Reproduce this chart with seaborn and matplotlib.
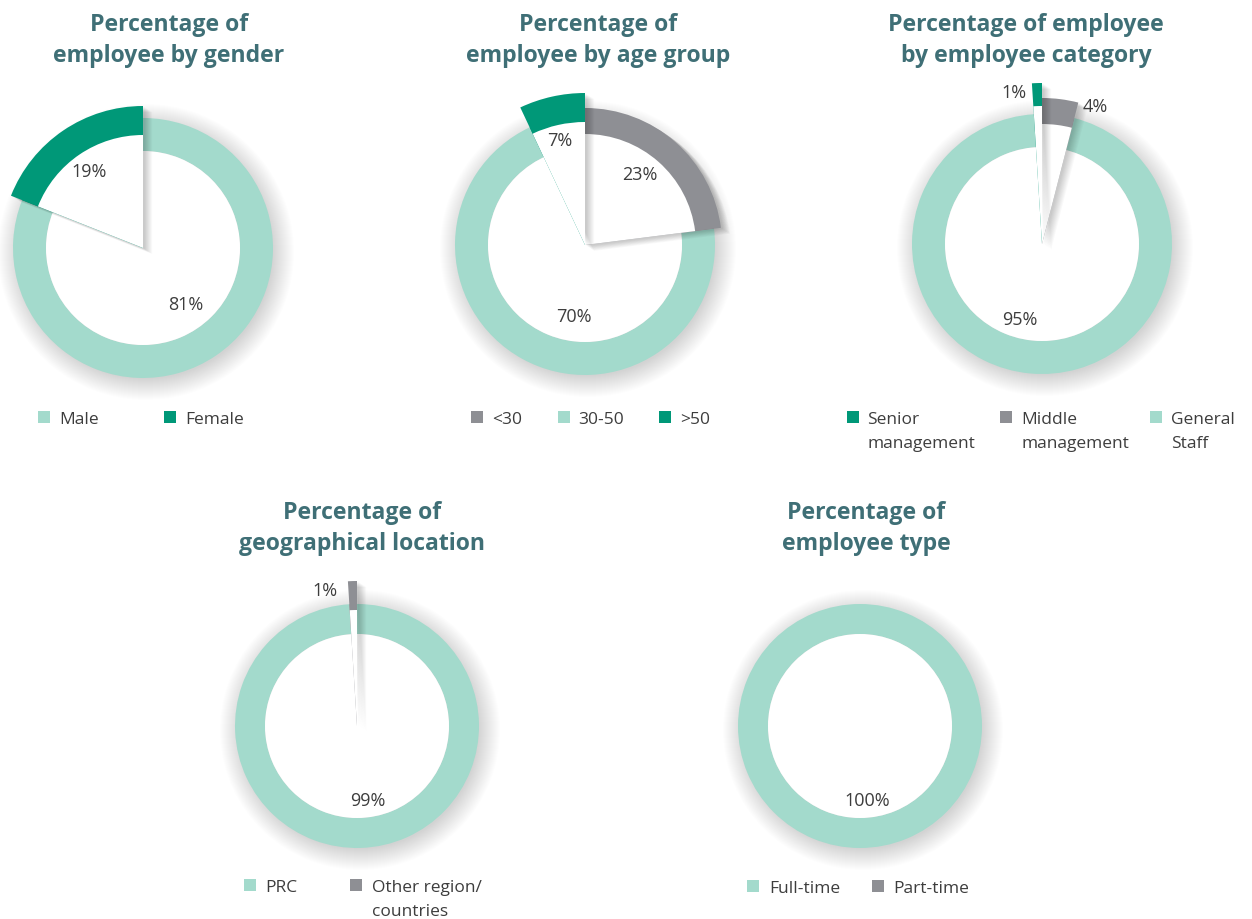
import matplotlib
matplotlib.use("Agg")
import matplotlib.pyplot as plt
import seaborn as sns

# ---------------- data ----------------
gender_labels = ["Male", "Female"]
gender_values = [81, 19]

age_labels = ["<30", "30-50", ">50"]
age_values = [23, 70, 7]

category_labels = ["Senior\nmanagement", "Middle\nmanagement", "General\nStaff"]
category_values = [1, 4, 95]

location_labels = ["PRC", "Other region/\ncountries"]
location_values = [99, 1]

type_labels = ["Full-time", "Part-time"]
type_values = [100, 0]

titles = [
    ["Percentage of", "employee by gender"],
    ["Percentage of", "employee by age group"],
    ["Percentage of employee", "by employee category"],
    ["Percentage of", "geographical location"],
    ["Percentage of", "employee type"],
]

# ---------------- style ----------------
sns.set_theme(style="white")
plt.rcParams["font.family"] = ["Open Sans", "DejaVu Sans"]

LIGHT, DARK, GRAY = sns.color_palette(["#a3dacc", "#009878", "#8e8f94"])
TITLE_C = "#3f6f76"
TEXT_C = "#3d3d3d"

W, H = 1252, 920

charts = [
    dict(labels=gender_labels, values=gender_values, colors=[LIGHT, DARK],
         pie_order=[0, 1], center=(143, 249), R=130, r=97,
         explode=[None, (142, 113)],
         pct_pos=[(186, 305.5), (89, 172)],
         title_x=169, title_y=31,
         leg_sq=[44, 170], leg_tx=[59, 185], leg_y=418),
    dict(labels=age_labels, values=age_values, colors=[GRAY, LIGHT, DARK],
         pie_order=[0, 1, 2], center=(585, 246), R=130, r=97,
         explode=[(137, 111), None, (152, 123)],
         pct_pos=[(640, 174.5), (573.5, 316.5), (559.5, 140.5)],
         title_x=598, title_y=31,
         leg_sq=[477, 564, 665], leg_tx=[492, 578, 680], leg_y=418),
    dict(labels=category_labels, values=category_values, colors=[DARK, GRAY, LIGHT],
         pie_order=[1, 2, 0], center=(1042, 245), R=130, r=97,
         explode=[(161, 138), (146, 120), None],
         pct_pos=[(1014, 93), (1095, 107), (1020, 320)],
         title_x=1026, title_y=31,
         leg_sq=[853, 1006, 1156], leg_tx=[867, 1021, 1171], leg_y=418),
    dict(labels=location_labels, values=location_values, colors=[LIGHT, GRAY],
         pie_order=[0, 1], center=(357, 727), R=122, r=92,
         explode=[None, (145, 116)],
         pct_pos=[(367.5, 801), (324.5, 591.5)],
         title_x=362, title_y=519,
         leg_sq=[250, 356], leg_tx=[265, 372], leg_y=886),
    dict(labels=type_labels, values=type_values, colors=[LIGHT, GRAY],
         pie_order=[0, 1], center=(860, 727), R=122, r=92,
         explode=[None, None],
         pct_pos=[(867, 801), None],
         title_x=866, title_y=519,
         leg_sq=[753, 878], leg_tx=[769, 893], leg_y=887),
]

fig = plt.figure(figsize=(W / 100, H / 100), dpi=100)
fig.patch.set_facecolor("white")
ax = fig.add_axes([0, 0, 1, 1])


def draw_pie(values, center, radius, colors, width=None, visible=None, alpha=1.0):
    wp = dict(linewidth=0, alpha=alpha, antialiased=True)
    if width is not None:
        wp["width"] = width
    wedges, _ = ax.pie(values, radius=radius, center=center, colors=colors,
                       startangle=90, counterclock=False, wedgeprops=wp)
    if visible is not None:
        for i, w in enumerate(wedges):
            w.set_visible(i in visible)
    return wedges


for idx, ch in enumerate(charts):
    cx, cy = ch["center"]
    cyd = H - cy
    order = ch["pie_order"]
    vals = [ch["values"][i] for i in order]
    cols = [ch["colors"][i] for i in order]
    expl = [ch["explode"][i] for i in order]
    R, r = ch["R"], ch["r"]

    # soft, diffuse drop shadow of the ring
    for k in range(0, 22):
        draw_pie(vals, (cx + 3, cyd - 4), R - 3 + k * 1.0, ["black"] * len(vals), alpha=0.008)
    # ring
    draw_pie(vals, (cx, cyd), R, cols, width=R - r)
    # white centre
    draw_pie([1], (cx, cyd), r, ["white"])

    # exploded slices
    for i, e in enumerate(expl):
        if e is None or vals[i] == 0:
            continue
        R2, rin = e
        for k in range(1, 10):
            draw_pie(vals, (cx + 1.0 + k * 0.9, cyd - 0.5 - k * 0.6), R2, ["black"] * len(vals),
                     visible=[i], alpha=0.022)
        draw_pie(vals, (cx, cyd), R2, cols, visible=[i])
        draw_pie(vals, (cx, cyd), rin, ["white"] * len(vals), visible=[i])

    # percentage labels
    for v, pos in zip(ch["values"], ch["pct_pos"]):
        if pos is None:
            continue
        ax.text(pos[0], H - pos[1], f"{v}%", ha="center", va="center",
                fontsize=13, color=TEXT_C, zorder=10)

    # title
    for j, line in enumerate(titles[idx]):
        ax.text(ch["title_x"], H - (ch["title_y"] + j * 31), line, ha="center",
                va="baseline", fontsize=16.6, fontweight="bold", color=TITLE_C, zorder=10)

    # legend
    for lab, col, sx, tx in zip(ch["labels"], ch["colors"], ch["leg_sq"], ch["leg_tx"]):
        ax.scatter([sx], [H - ch["leg_y"]], marker="s", s=75, color=col,
                   linewidths=0, zorder=10)
        for j, line in enumerate(lab.split("\n")):
            ax.text(tx, H - (ch["leg_y"] + 6 + j * 24), line, ha="left", va="baseline",
                    fontsize=12.5, color=TEXT_C, zorder=10)

ax.set_xlim(0, W)
ax.set_ylim(0, H)
ax.set_aspect("equal")
ax.axis("off")

fig.savefig("out.png", dpi=100, facecolor="white")
